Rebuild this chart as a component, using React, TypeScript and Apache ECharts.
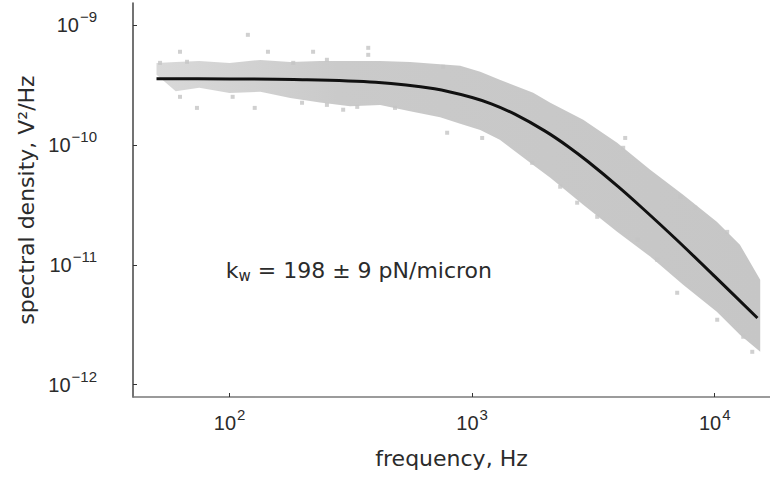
import React, { useEffect, useRef } from 'react';
import * as echarts from 'echarts';

// Axis ranges (Hz, V^2/Hz) and decade ticks
const xRangeHz = [40, 16900];
const yRange = [7.9e-13, 1.52e-9];
const xTickExponents = [2, 3, 4];
const yTickExponents = [-12, -11, -10, -9];

// Fitted Lorentzian curve
const fitFreq = [50, 100, 200, 400, 700, 1000, 1200, 1500, 2000, 2500, 3000, 4000, 5000, 7000, 10000, 15000];
const fitDensity = [3.55e-10, 3.54e-10, 3.49e-10, 3.32e-10, 2.93e-10, 2.48e-10, 2.19e-10, 1.8e-10, 1.3e-10, 9.6e-11, 7.25e-11, 4.48e-11, 3.0e-11, 1.6e-11, 8.0e-12, 3.6e-12];

// Dense core of the measured spectrum: upper and lower envelope
const bandFreq = [50, 60, 75, 100, 134, 178, 236, 314, 418, 555, 738, 893, 1080, 1300, 1785, 2100, 2870, 3960, 5420, 7410, 10200, 12700, 15400];
const bandUpper = [4.8e-10, 4.9e-10, 5.0e-10, 4.8e-10, 5.1e-10, 4.9e-10, 5.0e-10, 5.0e-10, 5.0e-10, 4.9e-10, 4.7e-10, 4.55e-10, 4.06e-10, 3.48e-10, 2.71e-10, 2.24e-10, 1.62e-10, 1.04e-10, 6.2e-11, 3.83e-11, 2.28e-11, 1.47e-11, 7.5e-12];
const bandLower = [3.83e-10, 2.8e-10, 2.99e-10, 2.7e-10, 2.77e-10, 2.45e-10, 2.25e-10, 2.1e-10, 2.15e-10, 1.9e-10, 1.7e-10, 1.5e-10, 1.33e-10, 1.1e-10, 6.8e-11, 5.3e-11, 3.16e-11, 1.88e-11, 1.17e-11, 6.8e-12, 4.06e-12, 2.61e-12, 1.88e-12];

// Scattered individual measurement points outside the dense core
const scatterFreq = [119, 62.5, 144, 221, 373, 373, 62.5, 73.4, 127, 103, 294, 481, 789, 66.8, 51.7, 183, 252, 759, 199, 252, 336, 1100, 1768, 2307, 2710, 3278, 4275, 4195, 7207, 8309, 11260, 7003, 10240, 13110, 14280, 4790, 5793];
const scatterDensity = [8.25e-10, 5.96e-10, 5.96e-10, 5.96e-10, 6.43e-10, 5.62e-10, 2.51e-10, 2.03e-10, 2.03e-10, 2.51e-10, 1.96e-10, 2.03e-10, 1.26e-10, 4.92e-10, 4.82e-10, 4.82e-10, 5.11e-10, 4.47e-10, 2.24e-10, 2.15e-10, 2.07e-10, 1.14e-10, 7.08e-11, 4.47e-11, 3.29e-11, 2.51e-11, 1.14e-10, 9.44e-11, 3.69e-11, 2.99e-11, 1.88e-11, 5.84e-12, 3.48e-12, 2.51e-12, 1.88e-12, 1.62e-11, 1.1e-11];

const xTitle = 'frequency, Hz';
const yTitle = 'spectral density, V²/Hz';
const annotationValue = ' = 198 ± 9 pN/micron';

const lg = (v: number) => Math.log10(v);

const expLabel = (v: number) => {
  const e = Math.round(v);
  if (Math.abs(v - e) > 1e-6) return '';
  const s = e < 0 ? '\u2212' + String(-e) : String(e);
  return `{b|10}{s|${s}}`;
};

const labelRich = {
  b: { fontFamily: 'Liberation Sans', fontSize: 20, lineHeight: 24, color: '#2b2b2b' },
  s: { fontFamily: 'Liberation Sans', fontSize: 15, lineHeight: 15, padding: [0, 0, 17, 1], color: '#2b2b2b' },
};

export default function App() {
  const ref = useRef<HTMLDivElement>(null);

  useEffect(() => {
    document.body.style.margin = '0';
    if (!ref.current) return;
    const chart = echarts.init(ref.current, undefined, { renderer: 'svg' });

    const bandPoints = () => {
      const up = bandFreq.map((f, i) => [lg(f), lg(bandUpper[i])]);
      const lo = bandFreq.map((f, i) => [lg(f), lg(bandLower[i])]).reverse();
      return up.concat(lo);
    };

    const option: any = {
      animation: false,
      backgroundColor: '#ffffff',
      grid: { left: 133, right: 0, top: 3, bottom: 82, outerBoundsMode: 'none' },
      xAxis: {
        type: 'value',
        min: lg(xRangeHz[0]),
        max: lg(xRangeHz[1]),
        splitLine: { show: false },
        axisLine: { show: true, lineStyle: { color: '#7a7a7a', width: 1.5 } },
        axisTick: { show: true, inside: true, length: 4, customValues: xTickExponents, lineStyle: { color: '#333' } },
        axisLabel: { customValues: xTickExponents, formatter: expLabel, margin: 14, rich: labelRich },
        name: xTitle,
        nameLocation: 'middle',
        nameGap: 50,
        nameTextStyle: { fontFamily: 'DejaVu Sans', fontSize: 22, color: '#2b2b2b' },
      },
      yAxis: {
        type: 'value',
        min: lg(yRange[0]),
        max: lg(yRange[1]),
        splitLine: { show: false },
        axisLine: { show: true, lineStyle: { color: '#444', width: 1.5 } },
        axisTick: { show: true, inside: true, length: 4, customValues: yTickExponents, lineStyle: { color: '#333' } },
        axisLabel: { customValues: yTickExponents, formatter: expLabel, margin: 36, rich: labelRich },
        name: yTitle,
        nameLocation: 'middle',
        nameGap: 95,
        nameTextStyle: { fontFamily: 'DejaVu Sans', fontSize: 22, color: '#2b2b2b' },
      },
      series: [
        {
          type: 'custom',
          z: 1,
          silent: true,
          clip: true,
          data: [[lg(bandFreq[0]), lg(bandUpper[0])]],
          renderItem: (_params: any, api: any) => {
            const pts = bandPoints().map((p) => api.coord(p));
            return {
              type: 'polygon',
              shape: { points: pts },
              style: {
                fill: new echarts.graphic.LinearGradient(0, 0, 1, 0, [
                  { offset: 0, color: '#d9d9d9' },
                  { offset: 0.3, color: '#cacaca' },
                  { offset: 1, color: '#c6c6c6' },
                ]),
              },
            };
          },
        },
        {
          type: 'scatter',
          z: 2,
          symbol: 'rect',
          symbolSize: 4,
          itemStyle: { color: '#c4c4c4' },
          data: scatterFreq.map((f, i) => [lg(f), lg(scatterDensity[i])]),
        },
        {
          type: 'line',
          z: 3,
          smooth: 0.3,
          showSymbol: false,
          lineStyle: { color: '#111', width: 3 },
          data: fitFreq.map((f, i) => [lg(f), lg(fitDensity[i])]),
        },
      ],
      graphic: [
        {
          type: 'text',
          x: 492,
          y: 270,
          style: {
            text: `{k|k}{w|w}{t|${annotationValue}}`,
            align: 'right',
            verticalAlign: 'middle',
            rich: {
              k: { fontFamily: 'DejaVu Sans', fontSize: 22, lineHeight: 30, fill: '#2b2b2b' },
              w: { fontFamily: 'DejaVu Sans', fontSize: 15, lineHeight: 15, padding: [12, 0, 0, 0], fill: '#2b2b2b' },
              t: { fontFamily: 'DejaVu Sans', fontSize: 22, lineHeight: 30, fill: '#2b2b2b' },
            },
          },
        },
      ],
    };

    chart.setOption(option);
    return () => chart.dispose();
  }, []);

  return <div ref={ref} style={{ width: 770, height: 479 }} />;
}
